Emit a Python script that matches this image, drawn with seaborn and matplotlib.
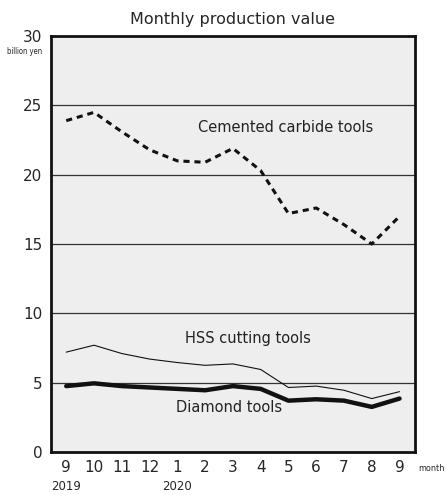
import matplotlib
matplotlib.use("Agg")
import matplotlib.pyplot as plt
import seaborn as sb
import pandas as pd

# monthly production value, billion yen (Sep 2019 - Sep 2020)
months = ["9", "10", "11", "12", "1", "2", "3", "4", "5", "6", "7", "8", "9"]
carbide = [23.9, 24.5, 23.1, 21.8, 21.0, 20.9, 21.9, 20.3, 17.2, 17.6, 16.4, 15.0, 17.0]
hss = [7.2, 7.7, 7.1, 6.7, 6.45, 6.25, 6.35, 5.95, 4.65, 4.75, 4.45, 3.85, 4.35]
diamond = [4.75, 4.95, 4.75, 4.65, 4.55, 4.45, 4.75, 4.55, 3.7, 3.8, 3.7, 3.25, 3.85]
years = {"2019": 0, "2020": 4}

df = pd.DataFrame({"pos": range(len(months)), "carbide": carbide, "hss": hss, "diamond": diamond})

sb.set_style("white")
plt.rcParams["font.family"] = ["DejaVu Sans"]

fig = plt.figure(figsize=(4.47, 4.95), dpi=100)
ax = fig.add_axes([0.114, 0.087, 0.814, 0.84])
ax.set_facecolor("#eeeeee")

for y in [5, 10, 15, 20, 25]:
    ax.axhline(y, color="#333333", lw=0.9, zorder=1)

sb.lineplot(data=df, x="pos", y="carbide", ax=ax, color="#111111", lw=2.2, linestyle=(0, (2, 1.6)), zorder=3)
sb.lineplot(data=df, x="pos", y="hss", ax=ax, color="#111111", lw=0.8, zorder=3)
sb.lineplot(data=df, x="pos", y="diamond", ax=ax, color="#111111", lw=3.2, zorder=3)

ax.text(7.9, 23.4, "Cemented carbide tools", ha="center", va="center", fontsize=10.5, color="#222222")
ax.text(6.55, 8.2, "HSS cutting tools", ha="center", va="center", fontsize=10.5, color="#222222")
ax.text(5.85, 3.2, "Diamond tools", ha="center", va="center", fontsize=10.5, color="#222222")

ax.set_xlim(-0.55, 12.55)
ax.set_ylim(0, 30)
ax.set_yticks([0, 5, 10, 15, 20, 25, 30])
ax.set_xticks(range(len(months)))
ax.set_xticklabels(months)
ax.set_xticks([i + 0.5 for i in range(len(months) - 1)], minor=True)
ax.tick_params(axis="x", which="major", length=0, pad=6, labelsize=11)
ax.tick_params(axis="x", which="minor", direction="in", length=8, width=1.2, color="#111111")
ax.tick_params(axis="y", length=0, pad=6, labelsize=11)
ax.set_xlabel("")
ax.set_ylabel("")

for s in ax.spines.values():
    s.set_linewidth(2)
    s.set_color("#111111")

for label, pos in years.items():
    ax.text(pos, -0.068, label, transform=ax.get_xaxis_transform(), ha="center", va="top", fontsize=8.5)

ax.text(1.01, -0.03, "month", transform=ax.transAxes, ha="left", va="top", fontsize=6.5, fontstretch="condensed")
fig.text(0.015, 0.895, "billion yen", ha="left", va="center", fontsize=5.5, fontstretch="condensed")

ax.set_title("Monthly production value", fontsize=11.5, pad=9)

fig.savefig("out.png", dpi=100)
